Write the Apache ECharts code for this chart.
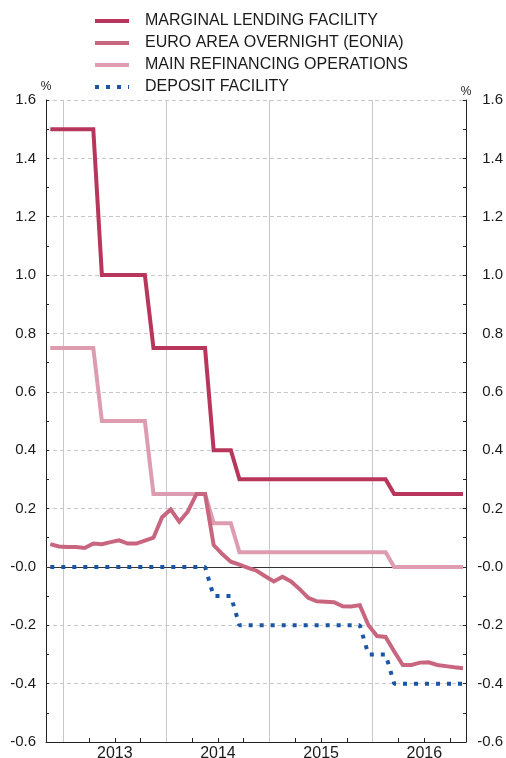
<!DOCTYPE html>
<html>
<head>
<meta charset="utf-8">
<script src="https://cdn.jsdelivr.net/npm/echarts@6/dist/echarts.min.js"></script>
<style>
html,body{margin:0;padding:0;background:#fff;}
#chart{width:506px;height:758px;}
</style>
</head>
<body>
<div id="chart"></div>
<script>
// Months Nov 2012 .. Nov 2016 (monthly)
const months = [
  '2012-11','2012-12',
  '2013-01','2013-02','2013-03','2013-04','2013-05','2013-06','2013-07','2013-08','2013-09','2013-10','2013-11','2013-12',
  '2014-01','2014-02','2014-03','2014-04','2014-05','2014-06','2014-07','2014-08','2014-09','2014-10','2014-11','2014-12',
  '2015-01','2015-02','2015-03','2015-04','2015-05','2015-06','2015-07','2015-08','2015-09','2015-10','2015-11','2015-12',
  '2016-01','2016-02','2016-03','2016-04','2016-05','2016-06','2016-07','2016-08','2016-09','2016-10','2016-11'
];
const marginalLending = [
  1.50,1.50,
  1.50,1.50,1.50,1.50,1.00,1.00,1.00,1.00,1.00,1.00,0.75,0.75,
  0.75,0.75,0.75,0.75,0.75,0.40,0.40,0.40,0.30,0.30,0.30,0.30,
  0.30,0.30,0.30,0.30,0.30,0.30,0.30,0.30,0.30,0.30,0.30,0.30,
  0.30,0.30,0.25,0.25,0.25,0.25,0.25,0.25,0.25,0.25,0.25
];
const eonia = [
  0.078,0.070,
  0.068,0.068,0.065,0.080,0.078,0.085,0.091,0.080,0.080,0.090,0.100,0.170,
  0.197,0.155,0.190,0.250,0.250,0.075,0.044,0.018,0.008,-0.003,-0.013,-0.032,
  -0.050,-0.034,-0.050,-0.076,-0.106,-0.118,-0.119,-0.121,-0.135,-0.136,-0.131,-0.200,
  -0.237,-0.240,-0.290,-0.336,-0.336,-0.328,-0.327,-0.336,-0.340,-0.344,-0.347
];
const mainRefinancing = [
  0.75,0.75,
  0.75,0.75,0.75,0.75,0.50,0.50,0.50,0.50,0.50,0.50,0.25,0.25,
  0.25,0.25,0.25,0.25,0.25,0.15,0.15,0.15,0.05,0.05,0.05,0.05,
  0.05,0.05,0.05,0.05,0.05,0.05,0.05,0.05,0.05,0.05,0.05,0.05,
  0.05,0.05,0.00,0.00,0.00,0.00,0.00,0.00,0.00,0.00,0.00
];
const depositFacility = [
  0.00,0.00,
  0.00,0.00,0.00,0.00,0.00,0.00,0.00,0.00,0.00,0.00,0.00,0.00,
  0.00,0.00,0.00,0.00,0.00,-0.10,-0.10,-0.10,-0.20,-0.20,-0.20,-0.20,
  -0.20,-0.20,-0.20,-0.20,-0.20,-0.20,-0.20,-0.20,-0.20,-0.20,-0.20,-0.30,
  -0.30,-0.30,-0.40,-0.40,-0.40,-0.40,-0.40,-0.40,-0.40,-0.40,-0.40
];
const years = [2013, 2014, 2015, 2016];
const seriesNames = ['MARGINAL LENDING FACILITY','EURO AREA OVERNIGHT (EONIA)','MAIN REFINANCING OPERATIONS','DEPOSIT FACILITY'];

// axis unit: months since 1 Nov 2012; monthly values plotted at mid-month
function monthPos(s) {
  const [y, m] = s.split('-').map(Number);
  return (y - 2012) * 12 + (m - 11);
}
function pairs(vals) { return months.map((mo, i) => [monthPos(mo) + 0.5, vals[i]]); }
const yearStart = years.map(y => monthPos(y + '-01'));
const yearMid = years.map(y => monthPos(y + '-07'));
const quarterTicks = [];
for (const y of years) for (const m of ['01','04','07','10']) quarterTicks.push(monthPos(y + '-' + m));

const FONT = 'Liberation Sans';
const TXT = '#1a1a1a';
const AX = '#222';
const fmt = v => Math.abs(v) < 1e-9 ? '-0.0' : v.toFixed(1);

const chart = echarts.init(document.getElementById('chart'), null, {renderer: 'canvas'});
const yAxisBase = {
  type: 'value', min: -0.6, max: 1.6, interval: 0.2,
  name: '%', nameLocation: 'end', nameGap: 2,
  nameTextStyle: {fontSize: 12, color: TXT, fontFamily: FONT},
  axisLine: {show: true, lineStyle: {color: AX, width: 1}},
  axisTick: {show: true, inside: true, length: 3, lineStyle: {color: AX}},
  minorTick: {show: true, splitNumber: 2, length: 3, lineStyle: {color: AX}},
  axisLabel: {formatter: fmt, fontSize: 15, color: TXT, fontFamily: FONT},
};
chart.setOption({
  animation: false,
  grid: {left: 46, right: 40, top: 100, bottom: 16, outerBoundsMode: 'none', containLabel: false},
  legend: {
    orient: 'vertical', left: 88, top: 8,
    itemWidth: 34, itemHeight: 14, itemGap: 6,
    textStyle: {fontSize: 16, color: TXT, fontFamily: FONT, padding: [0, 0, 0, 11], lineHeight: 16},
    lineStyle: {width: 4},
    itemStyle: {opacity: 0},
    data: seriesNames,
    selectedMode: false
  },
  xAxis: {
    type: 'value', min: 0, max: 48.85,
    axisLine: {show: true, onZero: false, lineStyle: {color: AX, width: 1}},
    axisTick: {show: true, inside: true, length: 4, customValues: quarterTicks, lineStyle: {color: AX}},
    axisLabel: {
      customValues: yearMid, margin: 4,
      formatter: v => String(years[yearMid.indexOf(v)]),
      fontSize: 16, color: TXT, fontFamily: FONT
    },
    splitLine: {show: false}
  },
  yAxis: [
    Object.assign({}, yAxisBase, {
      position: 'left',
      axisLabel: Object.assign({}, yAxisBase.axisLabel, {margin: 10}),
      splitLine: {show: true, lineStyle: {color: '#c8c8c8', type: [4, 3], width: 1}}
    }),
    Object.assign({}, yAxisBase, {
      position: 'right',
      axisLabel: Object.assign({}, yAxisBase.axisLabel, {margin: 37, align: 'right'}),
      splitLine: {show: false}
    })
  ],
  series: [
    {
      name: seriesNames[2], type: 'line', data: pairs(mainRefinancing), symbol: 'none', z: 3,
      lineStyle: {color: '#dd9cb0', width: 4, cap: 'butt', join: 'miter'}, itemStyle: {color: '#dd9cb0'},
      markLine: {
        silent: true, z: 1, symbol: ['none', 'none'], label: {show: false}, animation: false,
        emphasis: {disabled: true},
        data: yearStart.map(x => ({xAxis: x, lineStyle: {color: '#c8c8c8', width: 1, type: 'solid'}}))
          .concat([{yAxis: 0, lineStyle: {color: '#333', width: 1.2, type: 'solid'}}])
      }
    },
    {
      name: seriesNames[1], type: 'line', data: pairs(eonia), symbol: 'none', z: 4,
      lineStyle: {color: '#c9667f', width: 4, cap: 'butt', join: 'miter'}, itemStyle: {color: '#c9667f'}
    },
    {
      name: seriesNames[0], type: 'line', data: pairs(marginalLending), symbol: 'none', z: 5,
      lineStyle: {color: '#b8365c', width: 4, cap: 'butt', join: 'miter'}, itemStyle: {color: '#b8365c'}
    },
    {
      name: seriesNames[3], type: 'line', data: pairs(depositFacility), symbol: 'none', z: 6,
      lineStyle: {color: '#1a56a3', width: 4, type: [4, 7], cap: 'butt'}, itemStyle: {color: '#1a56a3'}
    }
  ]
});
</script>
</body>
</html>
